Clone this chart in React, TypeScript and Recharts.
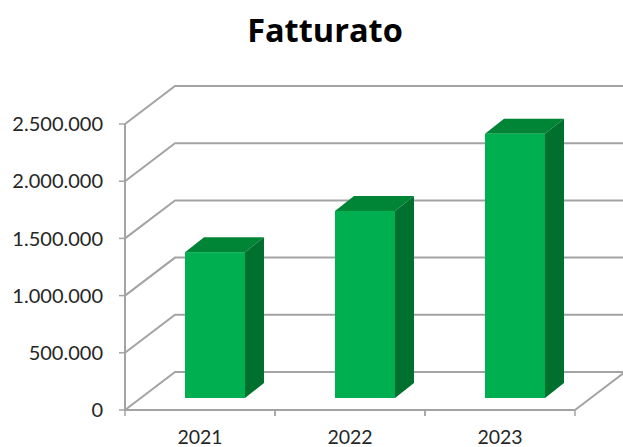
import { BarChart, Bar, XAxis, YAxis, CartesianGrid } from "recharts"

const years = ["2021", "2022", "2023"]
const revenue = [1275000, 1635000, 2310000]
const yTicks = [0, 500000, 1000000, 1500000, 2000000, 2500000]

const data = years.map((year, i) => ({ year, revenue: revenue[i] }))

const FONT = "Lato, sans-serif"
const AXIS = "#a3a3a3"
const TEXT = "#262626"
const BAND = 150
// how far the back wall sits from the front axes
const WALL_X = 50
const WALL_Y = 38
const RIGHT = 575
const BOTTOM = 410

const fmt = (v: number) => String(v).replace(/\B(?=(\d{3})+$)/g, ".")

function GridLine(props: any) {
  const { x1, y1 } = props
  return (
    <g fill="none" stroke={AXIS} strokeWidth={2}>
      <polyline points={`${x1},${y1} ${x1 + WALL_X},${y1 - WALL_Y} 640,${y1 - WALL_Y}`} />
      {Math.abs(y1 - BOTTOM) < 1 && <line x1={RIGHT} y1={y1} x2={RIGHT + WALL_X} y2={y1 - WALL_Y} />}
    </g>
  )
}

function Bar3D(props: any) {
  const { x, y, width, height } = props
  const left = x + 15
  const top = y - 12
  const right = left + width
  const bottom = top + height
  const dx = 19
  const dy = 15
  return (
    <g>
      <polygon points={`${left},${top} ${left + dx},${top - dy} ${right + dx},${top - dy} ${right},${top}`} fill="#008537" />
      <polygon points={`${right},${top} ${right + dx},${top - dy} ${right + dx},${bottom - dy} ${right},${bottom}`} fill="#00702E" />
      <rect x={left} y={top} width={width} height={height} fill="#00B050" />
    </g>
  )
}

function YearTick(props: any) {
  const { x, y, payload } = props
  return (
    <g>
      <line x1={x - BAND / 2} y1={BOTTOM} x2={x - BAND / 2} y2={BOTTOM + 6} stroke={AXIS} strokeWidth={1.5} />
      <line x1={x + BAND / 2} y1={BOTTOM} x2={x + BAND / 2} y2={BOTTOM + 6} stroke={AXIS} strokeWidth={1.5} />
      <text x={x} y={y} dy={26} textAnchor="middle" fontFamily={FONT} fontSize={19.5} fill={TEXT}>
        {payload.value}
      </text>
    </g>
  )
}

export default function App() {
  return (
    <div style={{ position: "absolute", left: 0, top: 0, width: 623, height: 447, background: "#fff", overflow: "hidden" }}>
      <BarChart width={623} height={447} data={data} barSize={60} margin={{ top: 124, right: 48, bottom: 0, left: 0 }}>
        <text x={325} y={42} textAnchor="middle" fontFamily="'Open Sans', sans-serif" fontWeight={700} fontSize={32.5} fill="#000">
          Fatturato
        </text>
        <CartesianGrid vertical={false} horizontal={(p: any) => <GridLine {...p} />} />
        <XAxis
          dataKey="year"
          axisLine={{ stroke: AXIS, strokeWidth: 2 }}
          tickLine={false}
          tick={(p: any) => <YearTick {...p} />}
          interval={0}
          height={37}
        />
        <YAxis
          width={125}
          domain={[0, 2500000]}
          ticks={yTicks}
          tickFormatter={fmt}
          axisLine={{ stroke: AXIS, strokeWidth: 2 }}
          tickLine={{ stroke: AXIS, strokeWidth: 1.5 }}
          tickSize={6}
          tickMargin={16}
          tick={{ fontFamily: FONT, fontSize: 20, fill: TEXT, dy: 0 }}
        />
        <Bar dataKey="revenue" shape={(p: any) => <Bar3D {...p} />} isAnimationActive={false} />
      </BarChart>
    </div>
  )
}
